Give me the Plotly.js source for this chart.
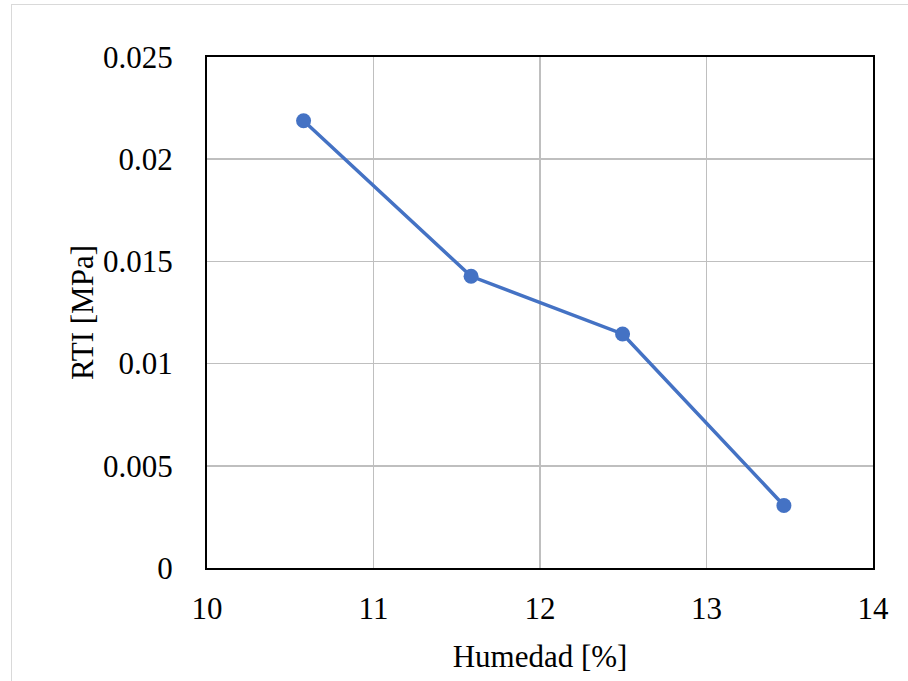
<!DOCTYPE html>
<html>
<head>
<meta charset="utf-8">
<script src="https://cdn.plot.ly/plotly-3.0.1.min.js"></script>
<style>
  html, body { margin: 0; padding: 0; background: #ffffff; }
  #wrap { position: relative; width: 908px; height: 681px; overflow: hidden; }
  #chart { width: 908px; height: 681px; }
  #frame { position: absolute; left: 11px; top: 4px; width: 1000px; height: 1000px;
           border: 1.5px solid #d9d9d9; pointer-events: none; }
  #chart text { font-family: "Liberation Serif", "Times New Roman", serif !important; }
</style>
</head>
<body>
<div id="wrap">
  <div id="chart"></div>
  <div id="frame"></div>
</div>
<script>
const humedad = [10.58, 11.586, 12.496, 13.465];
const rti = [0.02188, 0.01427, 0.01145, 0.00306];
const xTitle = 'Humedad [%]';
const yTitle = 'RTI [MPa]';

const fontFam = 'Liberation Serif, Times New Roman, serif';

const trace = {
  x: humedad,
  y: rti,
  type: 'scatter',
  mode: 'lines+markers',
  line: { color: '#4472C4', width: 3.5 },
  marker: { color: '#4472C4', size: 15 },
  showlegend: false,
  hoverinfo: 'x+y'
};

const layout = {
  width: 908,
  height: 681,
  margin: { l: 207, r: 35, t: 57, b: 113 },
  paper_bgcolor: '#ffffff',
  plot_bgcolor: '#ffffff',
  font: { family: fontFam, size: 31, color: '#000000' },
  xaxis: {
    range: [10, 14],
    dtick: 1,
    tick0: 10,
    showgrid: true,
    gridcolor: '#bfbfbf',
    gridwidth: 1.5,
    zeroline: false,
    showline: true,
    linecolor: '#000000',
    linewidth: 2,
    mirror: true,
    ticks: '',
    ticklabelstandoff: 12,
    tickfont: { family: fontFam, size: 31, color: '#000000' },
    title: { text: xTitle, font: { family: fontFam, size: 31, color: '#000000' }, standoff: 20 }
  },
  yaxis: {
    range: [0, 0.025],
    dtick: 0.005,
    tick0: 0,
    showgrid: true,
    gridcolor: '#bfbfbf',
    gridwidth: 1.5,
    zeroline: false,
    showline: true,
    linecolor: '#000000',
    linewidth: 2,
    mirror: true,
    ticks: '',
    ticklabelstandoff: 26,
    tickfont: { family: fontFam, size: 31, color: '#000000' },
    title: { text: yTitle, font: { family: fontFam, size: 31, color: '#000000' }, standoff: 0 }
  }
};

Plotly.newPlot('chart', [trace], layout, { displayModeBar: false, staticPlot: true });
</script>
</body>
</html>
